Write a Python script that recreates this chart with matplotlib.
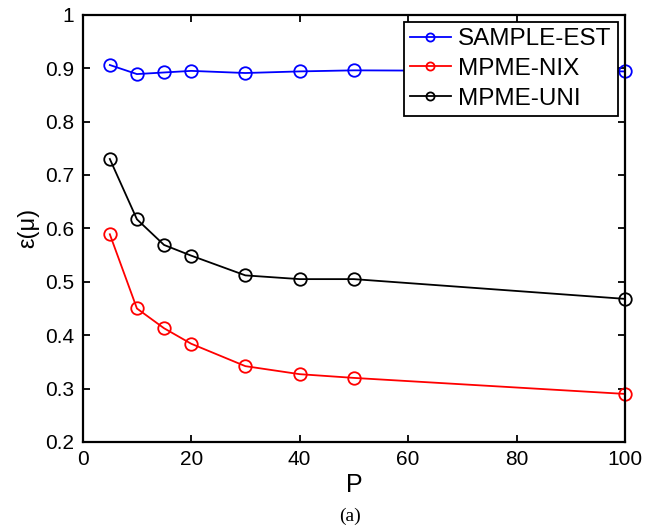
import matplotlib
matplotlib.use("Agg")
import matplotlib.pyplot as plt

# data
P = [5, 10, 15, 20, 30, 40, 50, 100]
sample_est = [0.906, 0.889, 0.892, 0.895, 0.891, 0.894, 0.896, 0.894]
mpme_nix = [0.589, 0.450, 0.413, 0.384, 0.342, 0.327, 0.320, 0.290]
mpme_uni = [0.730, 0.617, 0.569, 0.549, 0.512, 0.505, 0.505, 0.468]

xticks = [0, 20, 40, 60, 80, 100]
yticks = [0.2, 0.3, 0.4, 0.5, 0.6, 0.7, 0.8, 0.9, 1.0]
ytick_labels = ["0.2", "0.3", "0.4", "0.5", "0.6", "0.7", "0.8", "0.9", "1"]

plt.rcParams['font.family'] = ['Liberation Sans', 'DejaVu Sans']

fig = plt.figure(figsize=(6.67, 5.29), dpi=100)
ax = fig.add_axes([0.124, 0.1645, 0.813, 0.8075])

ax.plot(P, sample_est, '-o', color='#0000ff', mfc='none', ms=9, mew=1.3, lw=1.3,
        label='SAMPLE-EST', clip_on=False)
ax.plot(P, mpme_nix, '-o', color='#ff0000', mfc='none', ms=9, mew=1.3, lw=1.3,
        label='MPME-NIX', clip_on=False)
ax.plot(P, mpme_uni, '-o', color='black', mfc='none', ms=9, mew=1.3, lw=1.3,
        label='MPME-UNI', clip_on=False)

ax.set_xlim(0, 100)
ax.set_ylim(0.2, 1.0)
ax.set_xticks(xticks)
ax.set_yticks(yticks)
ax.set_yticklabels(ytick_labels)
ax.tick_params(direction='in', top=True, right=True, labelsize=15, length=5, width=1.3, pad=6)
for s in ax.spines.values():
    s.set_linewidth(1.6)

ax.set_xlabel('P', fontsize=18, labelpad=3)
ax.set_ylabel('ε(μ)', fontsize=17, labelpad=4)

leg = ax.legend(loc='upper right', fontsize=17.5, frameon=True, fancybox=False,
                edgecolor='black', borderpad=0.25, labelspacing=0.32,
                handlelength=1.7, handletextpad=0.3, borderaxespad=0.3,
                markerscale=0.65)
leg.get_frame().set_linewidth(1.3)
leg.get_frame().set_alpha(1)

fig.text(0.525, 0.023, '(a)', fontsize=14, family='Liberation Serif',
         ha='center', va='center')

fig.savefig('out.png', dpi=100)
